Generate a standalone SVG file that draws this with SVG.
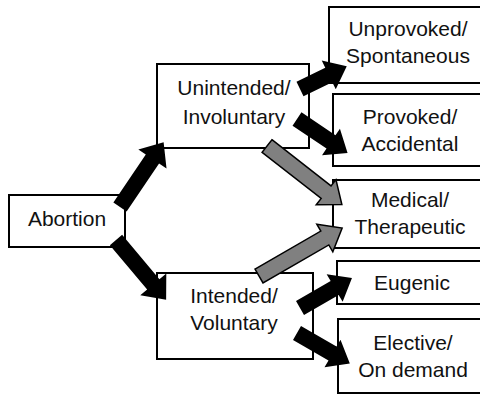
<svg xmlns="http://www.w3.org/2000/svg" width="480" height="396" viewBox="0 0 480 396">
<style>
.box{fill:#fff;stroke:#000;stroke-width:2}
.t{font-family:"Liberation Sans",Arial,sans-serif;font-size:21px;fill:#111;text-anchor:middle}
.blk{fill:#000}
.gry{fill:#808080;stroke:#000;stroke-width:1.5;stroke-linejoin:miter}
</style>
<rect width="480" height="396" fill="#fff"/>
<g id="abortion"><rect class="box" x="9" y="195" width="116" height="52"/><text class="t" x="67" y="226">Abortion</text></g>
<g id="unintended"><rect class="box" x="157" y="64" width="152" height="84"/><text class="t" x="234" y="95">Unintended/</text><text class="t" x="234" y="124">Involuntary</text></g>
<g id="intended"><rect class="box" x="157" y="273" width="156" height="86"/><text class="t" x="234" y="303">Intended/</text><text class="t" x="234" y="330">Voluntary</text></g>
<g id="unprovoked"><rect class="box" x="329" y="7" width="160" height="76"/><text class="t" x="408" y="36">Unprovoked/</text><text class="t" x="408" y="63">Spontaneous</text></g>
<g id="provoked"><rect class="box" x="333" y="94" width="160" height="72"/><text class="t" x="410" y="124">Provoked/</text><text class="t" x="410" y="151">Accidental</text></g>
<g id="medical"><rect class="box" x="333" y="180" width="160" height="68"/><text class="t" x="410" y="207">Medical/</text><text class="t" x="410" y="234">Therapeutic</text></g>
<g id="eugenic"><rect class="box" x="337" y="261" width="160" height="43"/><text class="t" x="412" y="290">Eugenic</text></g>
<g id="elective"><rect class="box" x="338" y="319" width="160" height="74"/><text class="t" x="413" y="350">Elective/</text><text class="t" x="413" y="377">On demand</text></g>
<g id="connectors">
<path class="blk" transform="translate(120,207) rotate(-56)" d="M0,-8 H58 V-17 L78,0 L58,17 V8 H0 Z"/>
<path class="blk" transform="translate(116,240) rotate(50)" d="M0,-8 H58 V-17 L78,0 L58,17 V8 H0 Z"/>
<path class="blk" transform="translate(300,89) rotate(-26)" d="M0,-8 H32 V-16 L52,0 L32,16 V8 H0 Z"/>
<path class="blk" transform="translate(297,119) rotate(34)" d="M0,-8 H41 V-16 L61,0 L41,16 V8 H0 Z"/>
<path class="gry" transform="translate(267,146) rotate(38)" d="M0,-8 H75 V-16 L95,0 L75,16 V8 H0 Z"/>
<path class="gry" transform="translate(259,276) rotate(-30)" d="M0,-8 H76 V-16 L96,0 L76,16 V8 H0 Z"/>
<path class="blk" transform="translate(300,308) rotate(-30)" d="M0,-8 H40 V-16 L60,0 L40,16 V8 H0 Z"/>
<path class="blk" transform="translate(297,333) rotate(30)" d="M0,-8 H41 V-16 L61,0 L41,16 V8 H0 Z"/>
</g>
</svg>
